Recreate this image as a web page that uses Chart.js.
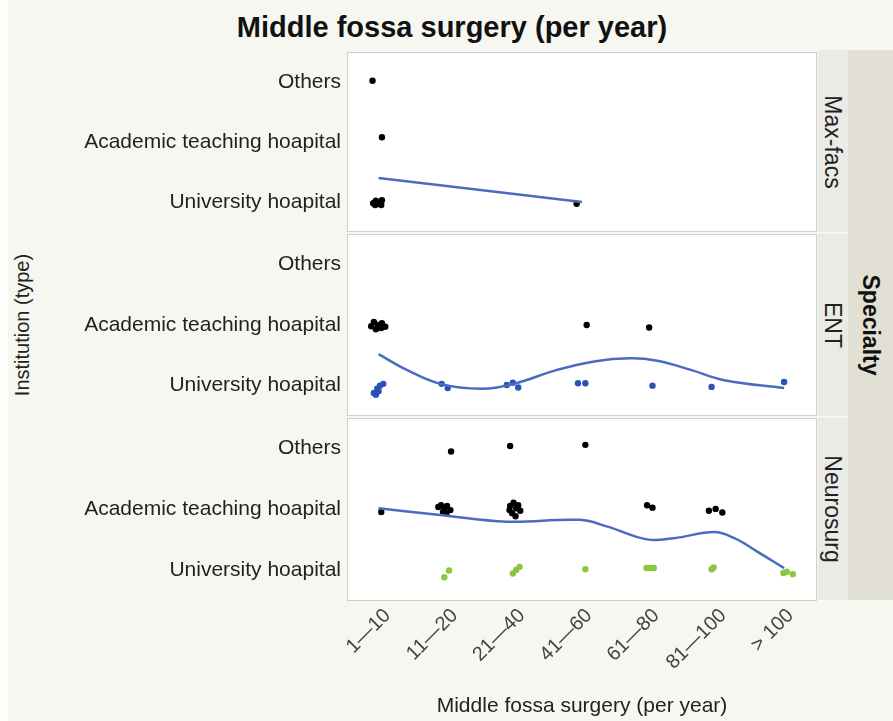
<!DOCTYPE html>
<html>
<head>
<meta charset="utf-8">
<script src="https://cdn.jsdelivr.net/npm/chart.js@4.4.0/dist/chart.umd.min.js"></script>
<style>
  body { margin: 0; background: #fff; }
  #page { position: relative; width: 893px; height: 721px; background: #f7f7f2; overflow: hidden;
          font-family: "Liberation Sans", Arial, sans-serif; color: #111; }
  .abs { position: absolute; }
  #edge { left: 0; top: 0; width: 8px; height: 721px; background: #fdfdfb; }
  #title { left: 0; width: 904px; top: 11px; text-align: center; font-weight: bold; font-size: 29px; }
  #ytitle { left: 22px; top: 325px; font-size: 20px; white-space: nowrap; color: #222;
            transform: translate(-50%, -50%) rotate(-90deg); }
  .strip { left: 818px; width: 30px; background: #ebebe6; }
  #outer { left: 848px; width: 45px; top: 50px; height: 550px; background: #e2dfd5; }
  .vlab { white-space: nowrap; transform: translate(-50%, -50%) rotate(90deg); }
  .slab { left: 832px; font-size: 23px; color: #222; }
  #spec { left: 870px; top: 325px; font-size: 23px; font-weight: bold; }
</style>
</head>
<body>
<div id="page">
  <div id="edge" class="abs"></div>
  <div id="title" class="abs">Middle fossa surgery (per year)</div>
  <div id="ytitle" class="abs">Institution (type)</div>

  <div class="abs strip" style="top:50px;height:182px"></div>
  <div class="abs strip" style="top:234px;height:182px"></div>
  <div class="abs strip" style="top:418px;height:182px"></div>
  <div id="outer" class="abs"></div>
  <div id="s0" class="abs vlab slab" style="top:142px"></div>
  <div id="s1" class="abs vlab slab" style="top:325px"></div>
  <div id="s2" class="abs vlab slab" style="top:509px"></div>
  <div id="spec" class="abs vlab">Specialty</div>

  <div class="abs" style="left:0;top:52px"><canvas id="c0" width="817" height="180"></canvas></div>
  <div class="abs" style="left:0;top:234px"><canvas id="c1" width="817" height="182"></canvas></div>
  <div class="abs" style="left:0;top:418px"><canvas id="c2" width="817" height="303"></canvas></div>
</div>
<script>
const categories = ['1—10', '11—20', '21—40', '41—60', '61—80', '81—100', '> 100'];
const institutions = ['University hoapital', 'Academic teaching hoapital', 'Others'];
const specialties = ['Max-facs', 'ENT', 'Neurosurg'];

// jittered points: [category position, institution position]
const maxfacsOthers = [[-0.12, 2.02]];
const maxfacsAcademic = [[0.02, 1.08]];
const maxfacsUniversity = [[-0.11, -0.02], [-0.07, 0.02], [-0.02, -0.03], [0.02, 0.03],
  [0.01, -0.05], [-0.08, -0.05], [2.92, -0.03]];
const maxfacsTrend = [[-0.03, 0.4], [3.0, 0.0]];

const entOthers = [];
const entAcademic = [[-0.14, 0.98], [-0.10, 1.05], [-0.04, 1.0], [0.02, 1.03], [0.07, 0.97],
  [-0.07, 0.93], [0.01, 0.95], [3.07, 1.0], [4.0, 0.96]];
const entUniversity = [[-0.10, -0.12], [-0.05, -0.05], [-0.01, 0], [0.04, 0.03], [-0.07, -0.15],
  [-0.03, -0.09], [0.91, 0.03], [1.0, -0.04], [1.88, 0.01], [1.97, 0.05], [2.05, -0.03],
  [2.94, 0.04], [3.05, 0.04], [4.05, 0], [4.93, -0.02], [6.01, 0.06]];
const entTrend = [[-0.03, 0.52], [0.39, 0.26], [0.89, 0.03], [1.49, -0.05], [1.98, 0.03],
  [2.63, 0.26], [3.18, 0.40], [3.72, 0.45], [4.12, 0.41], [4.62, 0.26], [5.12, 0.09], [6.01, -0.04]];

const neuroOthers = [[1.05, 1.95], [1.93, 2.04], [3.05, 2.06]];
const neuroAcademic = [[0.01, 0.96], [0.86, 1.04], [0.90, 1.07], [0.95, 1.01], [0.99, 1.06],
  [1.04, 0.99], [0.93, 0.96], [0.98, 0.94], [1.98, 1.11], [1.92, 0.99], [1.96, 0.94],
  [2.02, 1.02], [2.08, 0.98], [2.01, 0.89], [2.05, 1.07], [1.93, 1.06], [3.97, 1.07],
  [4.05, 1.03], [4.89, 0.98], [4.99, 1.01], [5.09, 0.95]];
const neuroUniversity = [[0.95, -0.11], [1.02, 0.0], [1.97, -0.05], [2.02, 0.01], [2.07, 0.06],
  [3.05, 0.02], [3.96, 0.04], [4.02, 0.04], [4.07, 0.04], [4.93, 0.02], [4.96, 0.05],
  [6.0, -0.04], [6.05, -0.02], [6.14, -0.06]];
const neuroTrend = [[-0.03, 1.02], [0.89, 0.91], [1.88, 0.80], [2.97, 0.83], [3.38, 0.72],
  [3.97, 0.51], [4.37, 0.53], [4.97, 0.63], [5.27, 0.53], [5.61, 0.31], [6.01, 0.04]];

const FONT = '"Liberation Sans", Arial, sans-serif';

specialties.forEach((s, i) => { document.getElementById('s' + i).textContent = s; });

// white panel with thin grey frame
const panelFrame = {
  id: 'panelFrame',
  beforeDatasetsDraw(chart) {
    const { ctx, chartArea: a } = chart;
    ctx.save();
    ctx.fillStyle = '#fff';
    ctx.fillRect(a.left, a.top, a.right - a.left, a.bottom - a.top);
    ctx.strokeStyle = '#cfcfcb';
    ctx.lineWidth = 1;
    ctx.strokeRect(a.left + 0.5, a.top + 0.5, a.right - a.left - 1, a.bottom - a.top - 1);
    ctx.restore();
  }
};

const toXY = pts => pts.map(([x, y]) => ({ x, y }));

function pointSet(pts, color) {
  return {
    data: toXY(pts),
    backgroundColor: color,
    borderColor: color,
    borderWidth: 0,
    pointRadius: 3.2
  };
}

function makePanel(id, others, academic, university, trend, uniColor, showX) {
  const ctx = document.getElementById(id).getContext('2d');
  return new Chart(ctx, {
    type: 'scatter',
    data: {
      datasets: [
        {
          data: toXY(trend),
          showLine: true,
          borderColor: '#4a6cc0',
          borderWidth: 2.5,
          pointRadius: 0,
          tension: 0.4,
          fill: false
        },
        pointSet(others, '#000'),
        pointSet(academic, '#000'),
        pointSet(university, uniColor)
      ]
    },
    options: {
      responsive: false,
      animation: false,
      layout: { padding: 0, autoPadding: false },
      plugins: { legend: { display: false }, tooltip: { enabled: false } },
      scales: {
        x: {
          type: 'linear',
          min: -0.5,
          max: 6.5,
          display: showX,
          afterBuildTicks: scale => { scale.ticks = categories.map((c, i) => ({ value: i })); },
          afterFit: scale => {
            if (showX) scale.height = 120;
            scale.paddingLeft = 0;
            scale.paddingRight = 0;
          },
          grid: { display: false, drawTicks: false },
          border: { display: false },
          ticks: {
            callback: v => categories[v],
            minRotation: 45,
            maxRotation: 45,
            padding: 3,
            labelOffset: 7,
            color: '#444',
            font: { family: FONT, size: 20 }
          },
          title: {
            display: true,
            text: 'Middle fossa surgery (per year)',
            color: '#222',
            font: { family: FONT, size: 21 },
            padding: { top: 0, bottom: 2 }
          }
        },
        y: {
          type: 'linear',
          min: -0.5,
          max: 2.5,
          afterBuildTicks: scale => { scale.ticks = institutions.map((c, i) => ({ value: i })); },
          afterFit: scale => { scale.width = 347; scale.paddingTop = 0; scale.paddingBottom = 0; },
          grid: { display: false, drawTicks: false },
          border: { display: false },
          ticks: {
            callback: v => institutions[v],
            padding: 6,
            color: '#222',
            font: { family: FONT, size: 21 }
          }
        }
      }
    },
    plugins: [panelFrame]
  });
}

makePanel('c0', maxfacsOthers, maxfacsAcademic, maxfacsUniversity, maxfacsTrend, '#000', false);
makePanel('c1', entOthers, entAcademic, entUniversity, entTrend, '#2a52b8', false);
makePanel('c2', neuroOthers, neuroAcademic, neuroUniversity, neuroTrend, '#8cc63f', true);
</script>
</body>
</html>
